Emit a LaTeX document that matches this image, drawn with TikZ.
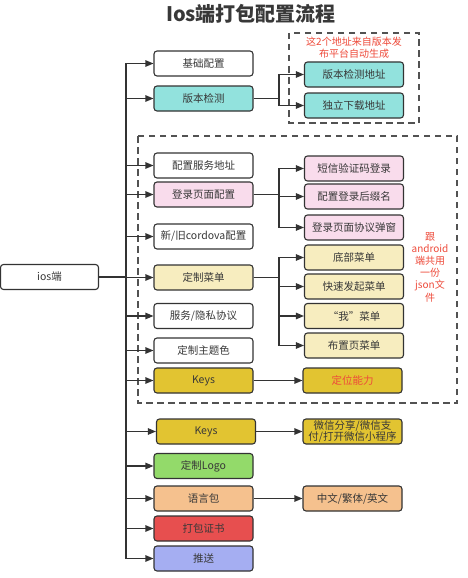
\documentclass[tikz,border=0pt]{standalone}
\usepackage{fontspec}
\setmainfont{Noto Sans CJK SC}
\usetikzlibrary{arrows.meta}
\definecolor{txt}{HTML}{383838}
\definecolor{edge}{HTML}{333333}
\definecolor{teal}{HTML}{92E2DD}
\definecolor{pinkf}{HTML}{F9DCEC}
\definecolor{ltyel}{HTML}{F7EDBF}
\definecolor{dkyel}{HTML}{E2C431}
\definecolor{greenf}{HTML}{93DA6A}
\definecolor{orangef}{HTML}{F5C18E}
\definecolor{redf}{HTML}{E74F4F}
\definecolor{lavf}{HTML}{A5AEF2}
\definecolor{redtxt}{HTML}{EE4A3A}
\tikzset{
  box/.style={draw=edge, line width=1.1pt, rounded corners=3pt, minimum width=99pt, minimum height=25pt,
    inner sep=1pt, text=txt, font=\fontsize{10.5}{12}\selectfont, align=center},
  conn/.style={draw=edge, line width=1.1pt},
  arr/.style={conn, -{Triangle[length=8pt,width=6.5pt]}},
  dashbox/.style={draw=edge!85, line width=1.1pt, dash pattern=on 6.5pt off 4.5pt},
  note/.style={text=redtxt, font=\fontsize{10}{12.2}\selectfont, align=center}
}
\begin{document}
\begin{tikzpicture}[x=1pt,y=-1pt]
\useasboundingbox (0,0) rectangle (468,578);
\fill[white] (0,0) rectangle (468,578);
% title
\node[text=txt, font=\fontsize{20}{22}\selectfont\bfseries] (title) at (251,14) {Ios端打包配置流程};
% dashed groups
\draw[dashbox] (289,33) rectangle (419,123);
\draw[dashbox] (138,136) rectangle (457,403);
\node[note] (note1) at (354,48) {这2个地址来自版本发\\布平台自动生成};
\node[note] (note2) at (430,267) {跟\\android\\端共用\\一份\\json文\\件};
% root
\node[box, fill=white, minimum width=98pt] (ios) at (49.5,277) {ios端};
% left column
\node[box, fill=white] (base) at (203.5,63.5) {基础配置};
\node[box, fill=teal] (ver) at (203.5,98.5) {版本检测};
\node[box, fill=white] (srv) at (203.5,165.5) {配置服务地址};
\node[box, fill=pinkf] (login) at (203.5,194.5) {登录页面配置};
\node[box, fill=white] (cordova) at (203.5,236.5) {新/旧cordova配置};
\node[box, fill=ltyel] (menu) at (203.5,277.5) {定制菜单};
\node[box, fill=white] (priv) at (203.5,316) {服务/隐私协议};
\node[box, fill=white] (theme) at (203.5,350.5) {定制主题色};
\node[box, fill=dkyel] (keysA) at (203.5,380.5) {Keys};
\node[box, fill=dkyel] (keysB) at (206,431.5) {Keys};
\node[box, fill=greenf] (logo) at (203.5,466) {定制Logo};
\node[box, fill=orangef] (lang) at (203.5,498.5) {语言包};
\node[box, fill=redf] (cert) at (203.5,528.5) {打包证书};
\node[box, fill=lavf] (push) at (203.5,558.5) {推送};
% right column
\node[box, fill=teal] (verA) at (354,74.5) {版本检测地址};
\node[box, fill=teal] (verB) at (354,105.5) {独立下载地址};
\node[box, fill=pinkf] (sms) at (354,168.5) {短信验证码登录};
\node[box, fill=pinkf] (suffix) at (354,196.5) {配置登录后缀名};
\node[box, fill=pinkf] (proto) at (354,227.5) {登录页面协议弹窗};
\node[box, fill=ltyel] (m1) at (354,257.5) {底部菜单};
\node[box, fill=ltyel] (m2) at (354,286.5) {快速发起菜单};
\node[box, fill=ltyel] (m3) at (354,316) {“我”菜单};
\node[box, fill=ltyel] (m4) at (354,345.5) {布置页菜单};
\node[box, fill=dkyel, text=redtxt] (loc) at (352.5,380.5) {定位能力};
\node[box, fill=dkyel, font=\fontsize{10.5}{11.5}\selectfont] (wx) at (352.5,431.5) {微信分享/微信支\\付/打开微信小程序};
\node[box, fill=orangef] (langs) at (352.5,498.5) {中文/繁体/英文};
% trunk
\coordinate (tTop) at (126,63.5);
\coordinate (tBot) at (126,558.5);
\draw[conn] (tTop) -- (tBot);
\draw[conn] (ios.east) -- (tTop |- ios.east);
\foreach \n in {base,ver,srv,login,cordova,menu,priv,theme,keysA,keysB,logo,lang,cert,push}
  \draw[arr] (tTop |- \n.west) -- (\n.west);
% branches
\coordinate (bx) at (279,0);
\foreach \s/\t in {ver/verA,ver/verB,login/sms,login/suffix,login/proto,menu/m1,menu/m2,menu/m3,menu/m4}
  \draw[arr] (\s.east) -- (bx |- \s.east) |- (\t.west);
\draw[arr] (keysA.east) -- (loc.west);
\draw[arr] (keysB.east) -- (wx.west);
\draw[arr] (lang.east) -- (langs.west);
\end{tikzpicture}
\end{document}
